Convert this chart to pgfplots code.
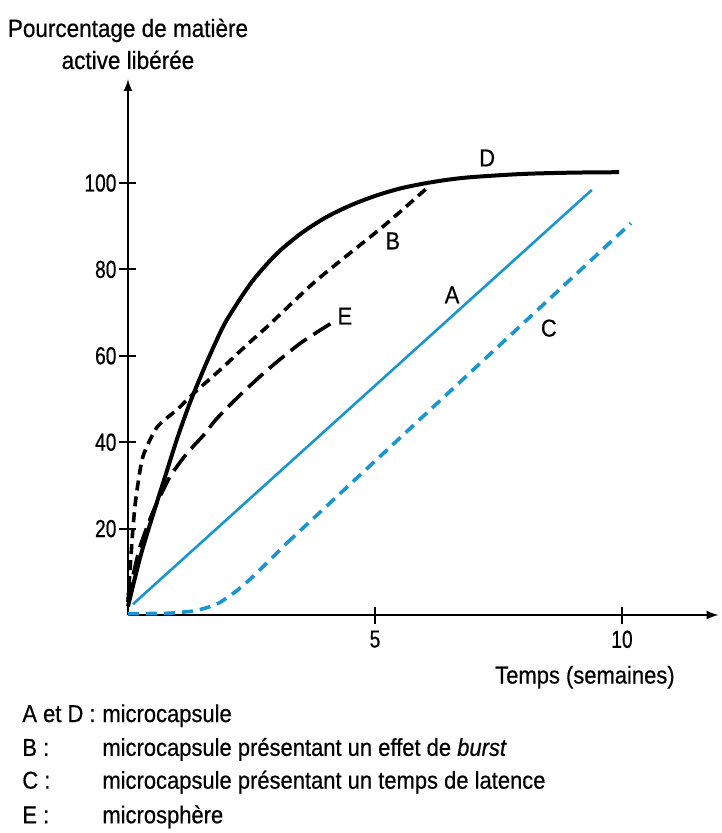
\documentclass[border=0pt]{standalone}
\usepackage{fontspec}
\setmainfont{Liberation Sans}[FakeStretch=0.9, FakeBold=0.5]
\newfontfamily\tickfont{Liberation Sans}[FakeStretch=0.78, FakeBold=0.5]
\usepackage{pgfplots}
\pgfplotsset{compat=1.18}
\definecolor{bleu}{RGB}{25,150,210}
\begin{document}
\begin{tikzpicture}
\begin{axis}[
  x=24.7pt, y=2.16pt,
  xmin=0, xmax=11.95, ymin=0, ymax=124,
  axis lines=left,
  axis line style={line width=1pt, -latex},
  xtick={5,10}, ytick={20,40,60,80,100},
  tick align=center, major tick length=8.5pt,
  tick style={line width=1pt, black},
  /pgf/number format/assume math mode=true,
  ticklabel style={font=\tickfont\fontsize{12.3}{14}\selectfont},
  yticklabel style={xshift=2pt},
  clip=false,
]
% D : microcapsule
\addplot[black, line width=2pt, smooth] coordinates {
  (0,2) (0.25,13.5) (0.5,23) (0.75,32) (1.0,41) (1.25,49) (1.5,56) (1.75,62.5)
  (2.0,68.3) (2.5,77) (3.0,83.5) (3.5,88.3) (4.0,92) (4.5,94.8) (5.0,97)
  (5.5,98.7) (6.0,99.9) (6.5,100.8) (7.0,101.4) (8.0,102.1) (9.0,102.4) (9.94,102.5)};
% B : effet de burst
\addplot[black, line width=1.8pt, dash pattern=on 5pt off 3pt, smooth, tension=0.4] coordinates {
  (0,3) (0.05,12) (0.1,20) (0.16,27) (0.3,36.6) (0.59,43.5) (0.99,47.5)
  (1.3,51) (1.86,56.7) (2.47,63.2) (2.87,67.3) (3.82,77.5) (5.16,89.9) (6.05,98.8)};
% E : microsphere
\addplot[black, line width=1.8pt, dash pattern=on 10pt off 4pt, smooth, tension=0.4] coordinates {
  (0,3) (0.1,9) (0.25,16) (0.51,24) (0.85,32) (1.2,37.5) (1.52,41.5) (1.8,45.5)
  (2.33,51.6) (2.87,57.2) (3.5,63) (4.15,67.8)};
% A : microcapsule
\addplot[bleu, line width=1.3pt] coordinates {(0.1,2.5) (9.39,98.4)};
% C : temps de latence
\addplot[bleu, line width=1.8pt, dash pattern=on 5.5pt off 3.5pt, smooth, tension=0.3] coordinates {
  (0,0.3) (0.8,0.4) (1.3,0.9) (1.6,1.7) (1.86,2.9) (2.2,5.6) (2.53,8.9) (3.22,16.7)};
\addplot[bleu, line width=1.8pt, dash pattern=on 5.5pt off 3.5pt] coordinates {
  (3.22,16.7) (10.18,90.7)};

\begin{scope}[every node/.style={font=\fontsize{12.2}{14}\selectfont}]
\node at (axis cs:7.27,105.8) {D};
\node at (axis cs:5.36,86.6) {B};
\node at (axis cs:4.39,69.2) {E};
\node at (axis cs:6.56,74.1) {A};
\node at (axis cs:8.52,66.4) {C};
\node at (axis cs:9.25,-14.4) {Temps (semaines)};
\end{scope}
\begin{scope}[every node/.style={font=\fontsize{12.2}{14}\selectfont, anchor=base west, inner sep=0pt}]
\node at (axis cs:-2.146,-24.77) {A et D :};
\node at (axis cs:-0.526,-24.77) {microcapsule};
\node at (axis cs:-2.146,-32.6) {B :};
\node at (axis cs:-0.526,-32.6) {microcapsule présentant un effet de \textit{burst}};
\node at (axis cs:-2.146,-40.2) {C :};
\node at (axis cs:-0.526,-40.2) {microcapsule présentant un temps de latence};
\node at (axis cs:-2.146,-48.2) {E :};
\node at (axis cs:-0.526,-48.2) {microsphère};
\end{scope}
\node[align=center, font=\fontsize{12.5}{16}\selectfont] at (axis cs:0,132.2)
  {Pourcentage de matière\\active libérée};

\coordinate (bl) at (axis cs:-2.591,-50.46);
\coordinate (tr) at (axis cs:12.024,142.36);
\end{axis}
\pgfresetboundingbox
\path[use as bounding box] (bl) rectangle (tr);
\end{tikzpicture}
\end{document}
